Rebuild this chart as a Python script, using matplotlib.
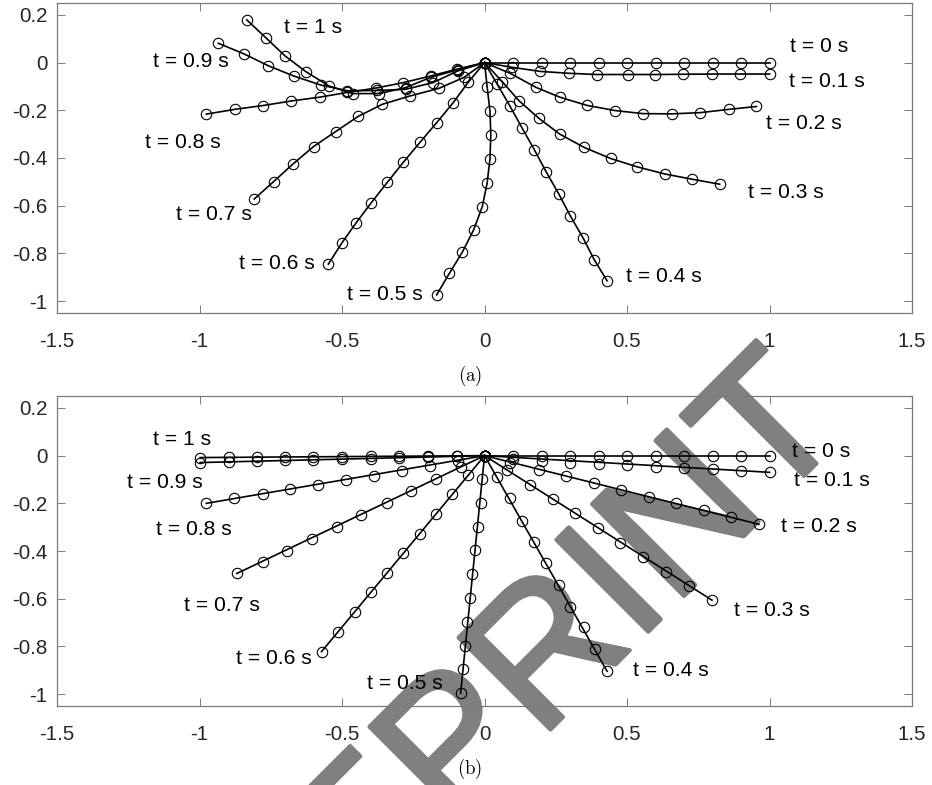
import matplotlib
matplotlib.use("Agg")
import matplotlib.pyplot as plt
import matplotlib.patheffects as pe

plt.rcParams['font.family'] = ['Liberation Sans', 'DejaVu Sans']
plt.rcParams['mathtext.fontset'] = 'cm'

# ---------------- data ----------------
time_labels = ['t = 0 s', 't = 0.1 s', 't = 0.2 s', 't = 0.3 s', 't = 0.4 s',
               't = 0.5 s', 't = 0.6 s', 't = 0.7 s', 't = 0.8 s', 't = 0.9 s', 't = 1 s']

# panel (a): marker positions along each curve
a_t00_x = [0, 0.1, 0.2, 0.3, 0.4, 0.5, 0.6, 0.7, 0.8, 0.9, 1.0]
a_t00_y = [0, 0, 0, 0, 0, 0, 0, 0, 0, 0, 0]
a_t01_x = [0, 0.098, 0.196, 0.298, 0.395, 0.502, 0.597, 0.696, 0.797, 0.897, 1.0]
a_t01_y = [0, -0.020, -0.037, -0.045, -0.050, -0.050, -0.050, -0.049, -0.048, -0.048, -0.048]
a_t02_x = [0, 0.090, 0.179, 0.264, 0.358, 0.457, 0.556, 0.656, 0.756, 0.858, 0.954]
a_t02_y = [0, -0.045, -0.103, -0.145, -0.179, -0.201, -0.214, -0.215, -0.210, -0.196, -0.184]
a_t03_x = [0, 0.062, 0.120, 0.190, 0.264, 0.350, 0.442, 0.535, 0.632, 0.728, 0.825]
a_t03_y = [0, -0.080, -0.159, -0.233, -0.300, -0.356, -0.402, -0.437, -0.467, -0.489, -0.510]
a_t04_x = [0, 0.044, 0.089, 0.132, 0.175, 0.217, 0.261, 0.301, 0.346, 0.385, 0.430]
a_t04_y = [0, -0.090, -0.182, -0.275, -0.366, -0.460, -0.552, -0.643, -0.736, -0.827, -0.915]
a_t05_x = [0, 0.009, 0.019, 0.022, 0.019, 0.009, -0.008, -0.038, -0.078, -0.123, -0.168]
a_t05_y = [0, -0.101, -0.203, -0.303, -0.404, -0.506, -0.604, -0.701, -0.795, -0.883, -0.974]
a_t06_x = [0, -0.057, -0.110, -0.168, -0.227, -0.285, -0.341, -0.397, -0.450, -0.501, -0.548]
a_t06_y = [0, -0.082, -0.168, -0.252, -0.335, -0.418, -0.502, -0.587, -0.671, -0.757, -0.845]
a_t07_x = [0, -0.072, -0.160, -0.262, -0.359, -0.444, -0.522, -0.600, -0.672, -0.740, -0.808]
a_t07_y = [0, -0.062, -0.108, -0.140, -0.175, -0.226, -0.289, -0.352, -0.425, -0.499, -0.572]
a_t08_x = [0, -0.098, -0.189, -0.285, -0.382, -0.481, -0.579, -0.678, -0.777, -0.876, -0.976]
a_t08_y = [0, -0.028, -0.056, -0.084, -0.107, -0.125, -0.145, -0.161, -0.180, -0.196, -0.216]
a_t09_x = [0, -0.094, -0.181, -0.277, -0.379, -0.481, -0.575, -0.670, -0.759, -0.843, -0.934]
a_t09_y = [0, -0.035, -0.084, -0.112, -0.117, -0.118, -0.094, -0.056, -0.013, 0.036, 0.081]
a_t10_x = [0, -0.094, -0.189, -0.277, -0.370, -0.462, -0.546, -0.627, -0.701, -0.768, -0.834]
a_t10_y = [0, -0.030, -0.062, -0.105, -0.130, -0.130, -0.098, -0.038, 0.029, 0.105, 0.179]

# panel (b): marker positions along each curve
b_t00_x = [0, 0.1, 0.2, 0.3, 0.4, 0.5, 0.6, 0.7, 0.8, 0.9, 1.0]
b_t00_y = [0, 0, 0, 0, 0, 0, 0, 0, 0, 0, 0]
b_t01_x = [0, 0.1, 0.2, 0.3, 0.4, 0.5, 0.6, 0.7, 0.8, 0.9, 1.0]
b_t01_y = [0, -0.012, -0.022, -0.029, -0.035, -0.041, -0.046, -0.051, -0.057, -0.063, -0.070]
b_t02_x = [0, 0.091, 0.190, 0.287, 0.383, 0.480, 0.576, 0.673, 0.769, 0.865, 0.963]
b_t02_y = [0, -0.032, -0.060, -0.085, -0.116, -0.144, -0.172, -0.200, -0.228, -0.256, -0.288]
b_t03_x = [0, 0.080, 0.159, 0.241, 0.319, 0.398, 0.477, 0.556, 0.638, 0.716, 0.798]
b_t03_y = [0, -0.060, -0.123, -0.183, -0.242, -0.305, -0.365, -0.426, -0.487, -0.547, -0.606]
b_t04_x = [0, 0.042, 0.089, 0.132, 0.175, 0.217, 0.261, 0.301, 0.348, 0.389, 0.430]
b_t04_y = [0, -0.090, -0.179, -0.273, -0.364, -0.452, -0.543, -0.634, -0.720, -0.812, -0.904]
b_t05_x = [0, -0.008, -0.014, -0.023, -0.034, -0.043, -0.052, -0.061, -0.069, -0.076, -0.084]
b_t05_y = [0, -0.099, -0.200, -0.298, -0.396, -0.498, -0.596, -0.697, -0.797, -0.896, -0.997]
b_t06_x = [0, -0.057, -0.113, -0.172, -0.227, -0.285, -0.343, -0.400, -0.456, -0.514, -0.572]
b_t06_y = [0, -0.082, -0.162, -0.246, -0.329, -0.410, -0.491, -0.573, -0.657, -0.739, -0.822]
b_t07_x = [0, -0.084, -0.169, -0.257, -0.343, -0.432, -0.519, -0.607, -0.694, -0.779, -0.869]
b_t07_y = [0, -0.049, -0.099, -0.148, -0.200, -0.249, -0.298, -0.350, -0.399, -0.447, -0.494]
b_t08_x = [0, -0.094, -0.192, -0.288, -0.388, -0.487, -0.584, -0.682, -0.779, -0.879, -0.976]
b_t08_y = [0, -0.022, -0.043, -0.063, -0.084, -0.102, -0.123, -0.141, -0.161, -0.178, -0.200]
b_t09_x = [0, -0.098, -0.198, -0.301, -0.400, -0.499, -0.601, -0.700, -0.799, -0.898, -0.998]
b_t09_y = [0, -0.003, -0.006, -0.009, -0.012, -0.015, -0.017, -0.020, -0.023, -0.026, -0.029]
b_t10_x = [0, -0.098, -0.198, -0.301, -0.400, -0.499, -0.601, -0.700, -0.799, -0.898, -0.998]
b_t10_y = [0, -0.001, -0.002, -0.002, -0.003, -0.004, -0.005, -0.005, -0.006, -0.007, -0.008]

xticks = [-1.5, -1, -0.5, 0, 0.5, 1, 1.5]
xtick_labels = ['-1.5', '-1', '-0.5', '0', '0.5', '1', '1.5']
yticks = [-1, -0.8, -0.6, -0.4, -0.2, 0, 0.2]
ytick_labels = ['-1', '-0.8', '-0.6', '-0.4', '-0.2', '0', '0.2']

a_curves = [(a_t00_x, a_t00_y), (a_t01_x, a_t01_y), (a_t02_x, a_t02_y), (a_t03_x, a_t03_y),
            (a_t04_x, a_t04_y), (a_t05_x, a_t05_y), (a_t06_x, a_t06_y), (a_t07_x, a_t07_y),
            (a_t08_x, a_t08_y), (a_t09_x, a_t09_y), (a_t10_x, a_t10_y)]
b_curves = [(b_t00_x, b_t00_y), (b_t01_x, b_t01_y), (b_t02_x, b_t02_y), (b_t03_x, b_t03_y),
            (b_t04_x, b_t04_y), (b_t05_x, b_t05_y), (b_t06_x, b_t06_y), (b_t07_x, b_t07_y),
            (b_t08_x, b_t08_y), (b_t09_x, b_t09_y), (b_t10_x, b_t10_y)]

# label anchor positions (left edge, vertical centre) in data coordinates
a_label_x = [1.073, 1.067, 0.988, 0.923, 0.498, -0.484, -0.861, -1.082, -1.192, -1.165, -0.703]
a_label_y = [0.067, -0.080, -0.257, -0.545, -0.897, -0.974, -0.841, -0.639, -0.335, 0.004, 0.148]
b_label_x = [1.078, 1.085, 1.040, 0.876, 0.521, -0.411, -0.873, -1.054, -1.153, -1.255, -1.162]
b_label_y = [0.017, -0.106, -0.298, -0.648, -0.902, -0.955, -0.850, -0.627, -0.309, -0.113, 0.069]

# ---------------- figure ----------------
fig = plt.figure(figsize=(9.32, 7.85), dpi=100)
ax_a = fig.add_axes([0.0612, 0.6013, 0.9174, 0.3949])
ax_b = fig.add_axes([0.0612, 0.1006, 0.9174, 0.3949])

spine_col = '#7a7a7a'


def style(ax):
    ax.set_facecolor('none')
    ax.set_xlim(-1.5, 1.5)
    ax.set_ylim(-1.05, 0.25)
    ax.set_xticks(xticks)
    ax.set_xticklabels(xtick_labels)
    ax.set_yticks(yticks)
    ax.set_yticklabels(ytick_labels)
    ax.tick_params(direction='in', top=True, right=True, length=6, width=0.7,
                   color=spine_col, labelcolor='#262626', labelsize=14.8)
    ax.tick_params(axis='x', pad=14)
    ax.tick_params(axis='y', pad=7)
    for s in ax.spines.values():
        s.set_color(spine_col)
        s.set_linewidth(0.9)


marker_kw = dict(linestyle='none', marker='o', markersize=7.5, markerfacecolor='none',
                 markeredgecolor='black', markeredgewidth=0.8)

style(ax_a)
for (xs, ys) in a_curves:
    ax_a.plot(xs, ys, color='black', linewidth=1.2, zorder=3)
    ax_a.plot(xs, ys, **marker_kw, zorder=4)
for lab, lx, ly in zip(time_labels, a_label_x, a_label_y):
    ax_a.text(lx, ly, lab, fontsize=15.2, ha='left', va='center', color='black', zorder=5)

style(ax_b)
for (xs, ys) in b_curves:
    ax_b.plot([xs[0], xs[-1]], [ys[0], ys[-1]], color='black', linewidth=1.2, zorder=3)
    ax_b.plot(xs, ys, **marker_kw, zorder=4)
for lab, lx, ly in zip(time_labels, b_label_x, b_label_y):
    ax_b.text(lx, ly, lab, fontsize=15.2, ha='left', va='center', color='black', zorder=5)

# captions
fig.text(470 / 932, 1 - 376 / 785, r'$\mathrm{(a)}$', fontsize=13.5, ha='center', va='center')
fig.text(470 / 932, 1 - 769 / 785, r'$\mathrm{(b)}$', fontsize=13.5, ha='center', va='center')

# watermark
fig.text(851 / 932, 1 - 429 / 785, 'PREPRINT', fontsize=136, color='#808080',
         rotation=45, rotation_mode='anchor', ha='right', va='baseline', zorder=-1,
         path_effects=[pe.withStroke(linewidth=3.0, foreground='#808080')])

fig.savefig('out.png', dpi=100)
